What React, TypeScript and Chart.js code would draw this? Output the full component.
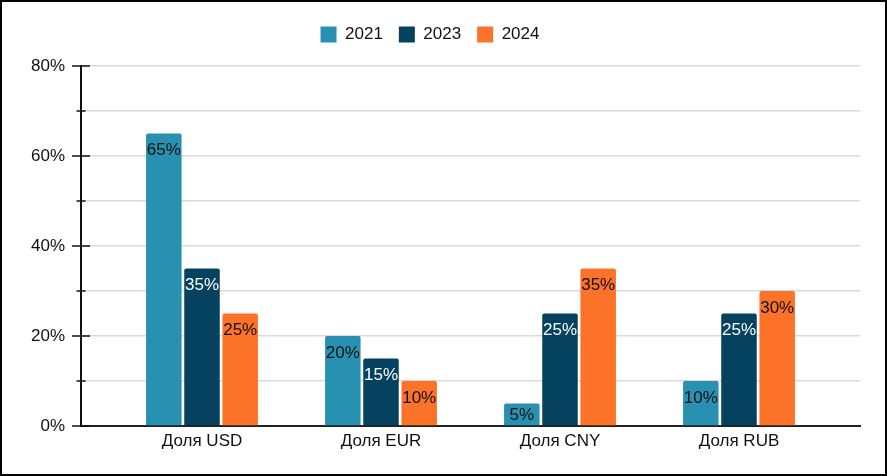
import React, { useEffect, useRef } from 'react';
import { Chart, registerables } from 'chart.js';

Chart.register(...registerables);

const categories = ['Доля USD', 'Доля EUR', 'Доля CNY', 'Доля RUB'];
const seriesNames = ['2021', '2023', '2024'];
const values2021 = [65, 20, 5, 10];
const values2023 = [35, 15, 25, 25];
const values2024 = [25, 10, 35, 30];
const seriesColors = ['#2891b1', '#05425f', '#fd7229'];
const labelColors = ['#111111', '#ffffff', '#111111'];
const yMax = 80;
const yStep = 10;
const yLabelEvery = 20;

const FONT = "'Liberation Sans', Arial, sans-serif";

export default function App() {
  const ref = useRef<HTMLCanvasElement>(null);

  useEffect(() => {
    document.body.style.margin = '0';
    const canvas = ref.current!;

    const legendMargin = {
      id: 'legendMargin',
      beforeInit(chart: any) {
        const legend = chart.legend;
        if (!legend) return;
        const orig = legend.fit;
        legend.fit = function () {
          orig.call(this);
          this.height += 13;
        };
      },
    };

    const crossTicks = {
      id: 'crossTicks',
      afterDraw(chart: any) {
        const ctx = chart.ctx;
        const y = chart.scales.y;
        const ax = chart.chartArea.left;
        ctx.save();
        ctx.strokeStyle = '#111';
        ctx.lineWidth = 1.5;
        for (let v = 0; v <= yMax; v += yStep) {
          const py = y.getPixelForValue(v);
          const half = v % yLabelEvery === 0 ? 9 : 4.5;
          ctx.beginPath();
          ctx.moveTo(ax - half, py);
          ctx.lineTo(ax + half, py);
          ctx.stroke();
        }
        ctx.restore();
      },
    };

    const barLabels = {
      id: 'barLabels',
      afterDatasetsDraw(chart: any) {
        const ctx = chart.ctx;
        ctx.save();
        ctx.font = `17px ${FONT}`;
        ctx.textAlign = 'center';
        ctx.textBaseline = 'middle';
        chart.data.datasets.forEach((ds: any, di: number) => {
          const meta = chart.getDatasetMeta(di);
          ctx.fillStyle = labelColors[di];
          meta.data.forEach((bar: any, i: number) => {
            const { x, y, base } = bar.getProps(['x', 'y', 'base'], true);
            const ty = Math.min(y + 17, (y + base) / 2 + 1);
            ctx.fillText(`${ds.data[i]}%`, x, ty);
          });
        });
        ctx.restore();
      },
    };

    const pad = 0.176;

    const chart = new Chart(canvas, {
      type: 'bar',
      data: {
        labels: categories,
        datasets: [values2021, values2023, values2024].map((d, i) => ({
          label: seriesNames[i],
          data: d,
          backgroundColor: seriesColors[i],
          borderWidth: 0,
          borderRadius: 2,
          borderSkipped: 'bottom',
          categoryPercentage: 0.64,
          barPercentage: 0.93,
        })),
      },
      options: {
        responsive: false,
        animation: false,
        devicePixelRatio: 1,
        layout: { padding: { top: 10, right: 27, bottom: 0, left: 0 } },
        plugins: {
          legend: {
            display: true,
            position: 'top',
            labels: {
              boxWidth: 16,
              boxHeight: 16,
              padding: 16,
              color: '#111',
              font: { family: FONT, size: 17 },
            },
          },
          tooltip: { enabled: false },
        },
        scales: {
          x: {
            offset: true,
            afterBuildTicks: (scale: any) => {
              scale._startValue = -0.5 - pad;
              scale._valueRange = categories.length + 2 * pad;
            },
            afterFit: (scale: any) => {
              scale.height = 50;
            },
            grid: { display: false, drawTicks: false },
            border: { display: true, color: '#222', width: 2 },
            ticks: {
              color: '#111',
              padding: 5,
              font: { family: FONT, size: 17 },
            },
          },
          y: {
            min: 0,
            max: yMax,
            afterFit: (scale: any) => {
              scale.width = 81;
            },
            grid: { color: '#d9d9d9', lineWidth: 1.5, drawTicks: false },
            border: { display: true, color: '#111', width: 2 },
            ticks: {
              stepSize: yStep,
              autoSkip: false,
              padding: 16,
              color: '#111',
              font: { family: FONT, size: 17 },
              callback: (v: any) => (Number(v) % yLabelEvery === 0 ? `${v}%` : ''),
            },
          },
        },
      },
      plugins: [legendMargin, crossTicks, barLabels],
    });

    return () => chart.destroy();
  }, []);

  return (
    <div style={{ position: 'relative', width: 887, height: 476, background: '#fff' }}>
      <canvas ref={ref} width={887} height={476} style={{ display: 'block', width: 887, height: 476 }} />
      <div
        style={{
          position: 'absolute',
          left: 0,
          top: 0,
          width: 887,
          height: 476,
          boxSizing: 'border-box',
          border: '2px solid #000',
          pointerEvents: 'none',
        }}
      />
    </div>
  );
}
